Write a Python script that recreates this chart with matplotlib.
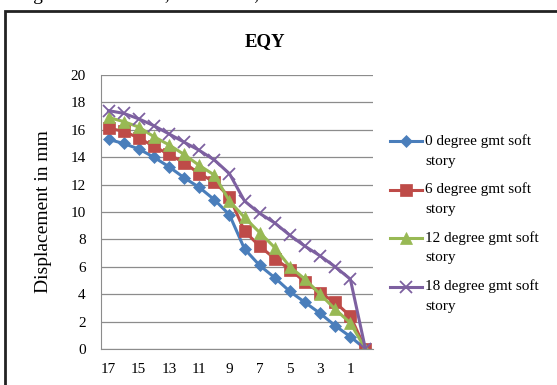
import matplotlib.pyplot as plt
from matplotlib.lines import Line2D
from matplotlib.patches import Rectangle

plt.rcParams['font.family'] = ['Liberation Serif', 'DejaVu Serif']

# storeys, plotted from 17 down to 0
stories = list(range(17, -1, -1))
tick_labels = ['17', '15', '13', '11', '9', '7', '5', '3', '1']

deg0 = [15.3, 15.0, 14.6, 14.0, 13.3, 12.5, 11.8, 10.9, 9.8,
        7.3, 6.1, 5.2, 4.2, 3.4, 2.6, 1.7, 0.9, 0.0]
deg6 = [16.1, 15.9, 15.4, 14.8, 14.2, 13.6, 12.8, 12.2, 11.1,
        8.6, 7.5, 6.6, 5.8, 4.9, 4.1, 3.4, 2.4, 0.0]
deg12 = [16.9, 16.6, 16.2, 15.5, 14.9, 14.2, 13.4, 12.7, 10.8,
         9.6, 8.5, 7.4, 6.0, 5.1, 4.0, 2.9, 1.9, 0.0]
deg18 = [17.4, 17.2, 16.8, 16.3, 15.7, 15.1, 14.5, 13.8, 12.8,
         10.8, 9.9, 9.2, 8.3, 7.5, 6.8, 6.0, 5.1, 0.0]

series = [
    ('0 degree gmt soft\nstory', deg0, '#4A7EBB', 'D', 6),
    ('6 degree gmt soft\nstory', deg6, '#BE4B48', 's', 8),
    ('12 degree gmt soft\nstory', deg12, '#98B954', '^', 8),
    ('18 degree gmt soft\nstory', deg18, '#7D60A0', 'x', 8),
]

W, H = 557, 385
fig = plt.figure(figsize=(W / 100, H / 100), dpi=100)
ax = fig.add_axes([101/W, 1 - 349/H, 272/W, 274/H])

x = list(range(len(stories)))
for label, vals, color, marker, ms in series:
    ax.plot(x, vals, color=color, lw=2.2, marker=marker, ms=ms,
            markeredgewidth=1.3 if marker == 'x' else 0.5,
            markeredgecolor=color, label=label)

ax.set_xlim(-0.5, len(stories) - 0.5)
ax.set_ylim(0, 20)
ax.set_yticks(range(0, 21, 2))
ax.set_xticks([stories.index(int(t)) for t in tick_labels])
ax.set_xticklabels(tick_labels)
ax.tick_params(axis='both', length=0, labelsize=11)
ax.tick_params(axis='x', pad=10)
ax.tick_params(axis='y', pad=11)
ax.grid(axis='y', color='#8c8c8c', lw=0.9)
ax.set_axisbelow(True)
for s in ['top', 'right']:
    ax.spines[s].set_visible(False)
for s in ['left', 'bottom']:
    ax.spines[s].set_color('#8c8c8c')

ax.set_ylabel('Displacement in mm', fontsize=14, labelpad=13)
fig.text(265/W, 1 - 42/H, 'EQY', fontsize=13.5, fontweight='bold',
         ha='center', va='center')

# legend drawn by hand so the two-line labels get Excel-like spacing
for i, (label, vals, color, marker, ms) in enumerate(series):
    y = 1 - (141 + 48.5 * i) / H
    fig.add_artist(Line2D([390/W, 406/W, 422/W], [y, y, y],
                          transform=fig.transFigure,
                          color=color, lw=2.2, marker=marker, ms=ms,
                          markevery=[1], markeredgecolor=color,
                          markeredgewidth=1.3 if marker == 'x' else 0.5))
    first, second = label.split('\n')
    fig.text(425/W, y, first, fontsize=11, ha='left', va='center')
    fig.text(425/W, y - 20/H, second, fontsize=11, ha='left', va='center')

# frame of the embedded chart and the cut-off text above it
fig.patches.append(Rectangle((5/W, -0.1), 1.2, 1 - 11/H + 0.1,
                             transform=fig.transFigure, fill=False,
                             edgecolor='#222222', lw=2))
fig.text(0.0, 1 + 5/H, '6 degree are 37.99 %, 32.89 2 %, 12.925 %.',
         fontsize=14, ha='left', va='center')

fig.savefig('out.png', dpi=100)
